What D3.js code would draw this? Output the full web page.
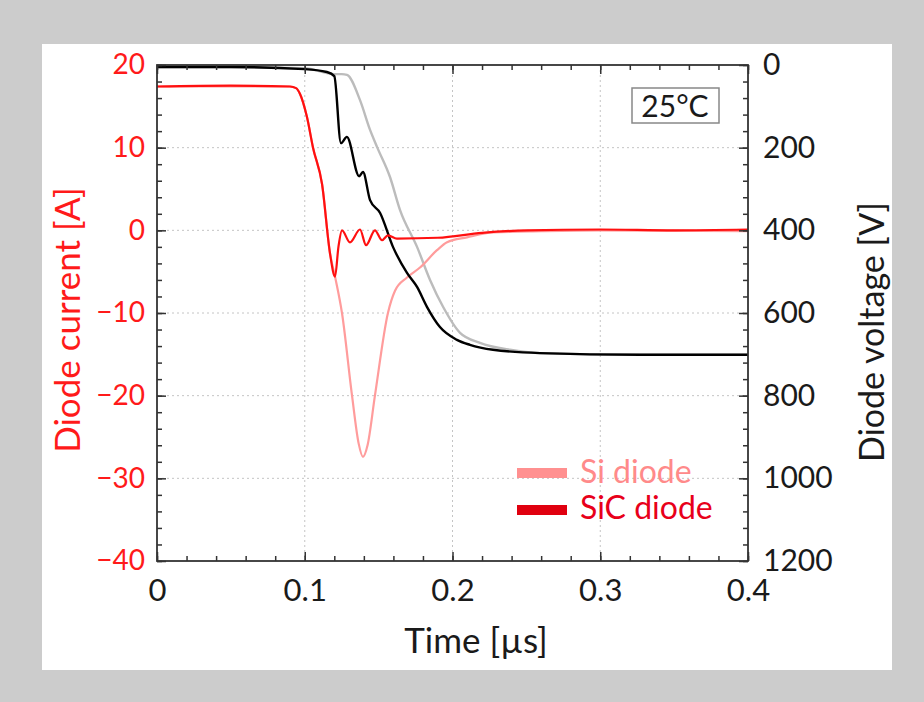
<!DOCTYPE html>
<html>
<head>
<meta charset="utf-8">
<script src="https://cdn.jsdelivr.net/npm/d3@7"></script>
<style>
  html, body { margin: 0; padding: 0; background: #cccccc; }
  svg { display: block; font-family: Lato, "Open Sans", sans-serif; }
</style>
</head>
<body>
<div id="chart"></div>
<script>
// Data (time in microseconds)
var si_current_t = [0, 0.05, 0.09, 0.0941, 0.0968, 0.1015, 0.1056, 0.1117, 0.1171, 0.1205, 0.1252, 0.132, 0.1365, 0.1394, 0.1425, 0.1475, 0.1563, 0.1611, 0.1692, 0.178, 0.1895, 0.1963, 0.2098, 0.2274, 0.26, 0.3, 0.4];
var si_current = [17.4, 17.4, 17.4, 17.2, 16.5, 13.7, 10.0, 5.6, -2.8, -5.6, -10.0, -20.0, -25.8, -27.4, -26.0, -20.0, -10.0, -7.3, -5.7, -4.5, -2.4, -1.45, -0.85, -0.25, -0.1, 0, -0.1];

var sic_current_t = [0, 0.05, 0.09, 0.0941, 0.0968, 0.1015, 0.1056, 0.1117, 0.1171, 0.1205, 0.1228, 0.1252, 0.1306, 0.1374, 0.1415, 0.1475, 0.1523, 0.1563, 0.1624, 0.19, 0.22, 0.25, 0.3, 0.35, 0.4];
var sic_current = [17.4, 17.5, 17.4, 17.2, 16.5, 13.7, 10.0, 5.6, -2.8, -5.6, -2.0, 0.0, -1.45, 0.1, -1.8, 0.0, -1.2, -0.6, -1.0, -0.9, -0.3, 0.0, 0.1, 0.0, 0.1];

var si_voltage_t = [0, 0.05, 0.1, 0.12, 0.125, 0.1286, 0.1374, 0.1442, 0.1489, 0.1577, 0.1645, 0.176, 0.1848, 0.1936, 0.2051, 0.2186, 0.2389, 0.2592, 0.3269, 0.4];
var si_voltage = [5, 5, 8, 22, 22, 24, 85, 157, 198, 271, 351, 440, 520, 585, 648, 672, 689, 697, 701, 701];

var sic_voltage_t = [0, 0.05, 0.1, 0.115, 0.12, 0.1245, 0.1285, 0.1368, 0.1394, 0.1442, 0.151, 0.1597, 0.1692, 0.176, 0.1827, 0.1915, 0.203, 0.2118, 0.2274, 0.2592, 0.3269, 0.4];
var sic_voltage = [5, 5, 10, 17, 27, 189, 174, 269, 259, 327, 358, 440, 503, 537, 585, 634, 665, 677, 689, 697, 701, 701];

var time_ticks = [0, 0.1, 0.2, 0.3, 0.4];
var current_ticks = [20, 10, 0, -10, -20, -30, -40];
var voltage_ticks = [0, 200, 400, 600, 800, 1000, 1200];

var legend_labels = ["Si diode", "SiC diode"];

(function () {
  "use strict";

  ////////////////////////////////////////////////////////////////////////////////////////////////////////////
  //
  // Layout
  //
  var W = 924, H = 702;
  var left = 157, right = 748, top = 65, bottom = 561;

  var svg = d3.select("#chart").append("svg")
    .attr("width", W)
    .attr("height", H);

  svg.append("rect").attr("width", W).attr("height", H).attr("fill", "#cccccc");
  svg.append("rect")
    .attr("x", 42).attr("y", 44)
    .attr("width", 850).attr("height", 626)
    .attr("fill", "#ffffff");

  var x = d3.scaleLinear().domain([0, 0.4]).range([left, right]);
  var y_i = d3.scaleLinear().domain([-40, 20]).range([bottom, top]);
  var y_v = d3.scaleLinear().domain([1200, 0]).range([bottom, top]);

  ////////////////////////////////////////////////////////////////////////////////////////////////////////////
  //
  // Grid
  //
  var grid = svg.append("g")
    .attr("stroke", "#c4c4c4")
    .attr("stroke-width", 1)
    .attr("stroke-dasharray", "2,3");

  grid.selectAll("line.gx")
    .data(time_ticks.slice(1, -1))
    .enter().append("line")
    .attr("x1", function (d) { return x(d); })
    .attr("x2", function (d) { return x(d); })
    .attr("y1", top).attr("y2", bottom);

  grid.selectAll("line.gy")
    .data(current_ticks.slice(1, -1))
    .enter().append("line")
    .attr("y1", function (d) { return y_i(d); })
    .attr("y2", function (d) { return y_i(d); })
    .attr("x1", left).attr("x2", right);

  ////////////////////////////////////////////////////////////////////////////////////////////////////////////
  //
  // Curves
  //
  function addCurve(ts, vs, y, color, width) {
    var pts = ts.map(function (t, i) { return [t, vs[i]]; });
    var line = d3.line()
      .x(function (d) { return x(d[0]); })
      .y(function (d) { return y(d[1]); })
      .curve(d3.curveMonotoneX);
    svg.append("path")
      .datum(pts)
      .attr("d", line)
      .attr("fill", "none")
      .attr("stroke", color)
      .attr("stroke-width", width)
      .attr("stroke-linejoin", "round");
  }

  addCurve(si_voltage_t, si_voltage, y_v, "#bcbcbc", 2.4);
  addCurve(si_current_t, si_current, y_i, "#ff9c9c", 2.2);
  addCurve(sic_voltage_t, sic_voltage, y_v, "#000000", 2.4);
  addCurve(sic_current_t, sic_current, y_i, "#ff1010", 2.2);

  ////////////////////////////////////////////////////////////////////////////////////////////////////////////
  //
  // Axes (ticks point inward, frame on all sides)
  //
  function styleAxis(g, color, size) {
    g.select(".domain").remove();
    g.selectAll(".tick line").attr("stroke", "#333333").attr("stroke-width", 1.5);
    g.selectAll(".tick text").attr("fill", color).style("font-size", size + "px").style("font-family", "Lato");
  }

  var minor_t = d3.range(0, 0.4001, 0.02);
  var minor_i = d3.range(-40, 20.001, 2);
  var minor_v = d3.range(0, 1200.1, 40);

  var gx = svg.append("g").attr("transform", "translate(0," + bottom + ")")
    .call(d3.axisBottom(x).tickValues(time_ticks).tickSize(-9).tickPadding(18).tickFormat(d3.format("")));
  styleAxis(gx, "#1a1a1a", 31);
  var gx2 = svg.append("g").attr("transform", "translate(0," + bottom + ")")
    .call(d3.axisBottom(x).tickValues(minor_t).tickSize(-5).tickFormat(""));
  styleAxis(gx2, "#1a1a1a", 31);

  var gxt = svg.append("g").attr("transform", "translate(0," + top + ")")
    .call(d3.axisTop(x).tickValues(time_ticks).tickSize(-9).tickFormat(""));
  styleAxis(gxt, "#1a1a1a", 30);
  var gxt2 = svg.append("g").attr("transform", "translate(0," + top + ")")
    .call(d3.axisTop(x).tickValues(minor_t).tickSize(-5).tickFormat(""));
  styleAxis(gxt2, "#1a1a1a", 30);

  var gl = svg.append("g").attr("transform", "translate(" + left + ",0)")
    .call(d3.axisLeft(y_i).tickValues(current_ticks).tickSize(-9).tickPadding(12).tickFormat(d3.format("")));
  styleAxis(gl, "#ff1a1a", 28);
  var gl2 = svg.append("g").attr("transform", "translate(" + left + ",0)")
    .call(d3.axisLeft(y_i).tickValues(minor_i).tickSize(-5).tickFormat(""));
  styleAxis(gl2, "#ff1a1a", 28);

  var gr = svg.append("g").attr("transform", "translate(" + right + ",0)")
    .call(d3.axisRight(y_v).tickValues(voltage_ticks).tickSize(-9).tickPadding(15).tickFormat(d3.format("")));
  styleAxis(gr, "#1a1a1a", 30);
  var gr2 = svg.append("g").attr("transform", "translate(" + right + ",0)")
    .call(d3.axisRight(y_v).tickValues(minor_v).tickSize(-5).tickFormat(""));
  styleAxis(gr2, "#1a1a1a", 30);

  svg.append("rect")
    .attr("x", left).attr("y", top)
    .attr("width", right - left).attr("height", bottom - top)
    .attr("fill", "none")
    .attr("stroke", "#333333")
    .attr("stroke-width", 1.8);

  ////////////////////////////////////////////////////////////////////////////////////////////////////////////
  //
  // Axis titles
  //
  svg.append("text")
    .attr("transform", "translate(80,320) rotate(-90)")
    .attr("text-anchor", "middle")
    .attr("fill", "#ff1a1a")
    .style("font-size", "35px")
    .text("Diode current [A]");

  svg.append("text")
    .attr("transform", "translate(884,332) rotate(-90)")
    .attr("text-anchor", "middle")
    .attr("fill", "#1a1a1a")
    .style("font-size", "34px")
    .text("Diode voltage [V]");

  svg.append("text")
    .attr("x", 476).attr("y", 653)
    .attr("text-anchor", "middle")
    .attr("fill", "#1a1a1a")
    .style("font-size", "35px")
    .text("Time [µs]");

  ////////////////////////////////////////////////////////////////////////////////////////////////////////////
  //
  // Temperature box
  //
  svg.append("rect")
    .attr("x", 632).attr("y", 88)
    .attr("width", 87).attr("height", 35)
    .attr("fill", "#ffffff")
    .attr("stroke", "#888888")
    .attr("stroke-width", 1.5);
  svg.append("text")
    .attr("x", 675).attr("y", 117)
    .attr("text-anchor", "middle")
    .attr("fill", "#1a1a1a")
    .style("font-size", "30px")
    .text("25°C");

  ////////////////////////////////////////////////////////////////////////////////////////////////////////////
  //
  // Legend
  //
  var legend_colors = ["#ff9090", "#e0000f"];
  var legend_text_colors = ["#ff8a8a", "#e8001a"];
  var legend = svg.append("g").attr("transform", "translate(517,473)");
  legend_labels.forEach(function (label, i) {
    legend.append("rect")
      .attr("x", 0).attr("y", i * 37 - 5)
      .attr("width", 50).attr("height", 10)
      .attr("fill", legend_colors[i]);
    legend.append("text")
      .attr("x", 63).attr("y", i * 36 + 10)
      .attr("fill", legend_text_colors[i])
      .style("font-size", "32px")
      .text(label);
  });
})();
</script>
</body>
</html>
